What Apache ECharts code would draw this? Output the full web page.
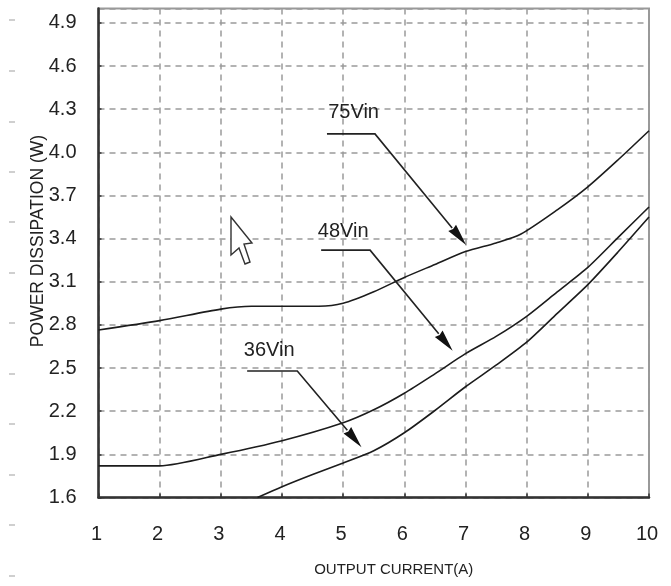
<!DOCTYPE html>
<html>
<head>
<meta charset="utf-8">
<style>html,body{margin:0;padding:0;background:#fff}#c{width:671px;height:586px}</style>
<script src="https://cdn.jsdelivr.net/npm/echarts@6/dist/echarts.min.js"></script>
</head>
<body>
<div id="c"></div>
<script>
const xTitle = 'OUTPUT CURRENT(A)';
const yTitle = 'POWER DISSIPATION (W)';
const curve75 = [[1,2.765],[2,2.83],[3,2.91],[3.5,2.93],[4,2.93],[4.6,2.93],[5,2.95],[5.5,3.03],[6,3.13],[6.5,3.22],[7,3.31],[7.5,3.37],[7.9,3.43],[8.5,3.6],[9,3.76],[9.5,3.95],[10,4.15]];
const curve48 = [[1,1.82],[2,1.82],[3,1.9],[4,1.995],[5,2.12],[5.5,2.21],[6,2.325],[6.5,2.46],[7,2.6],[7.5,2.72],[8,2.86],[8.5,3.03],[9,3.2],[9.5,3.41],[10,3.62]];
const curve36 = [[3.6,1.6],[4,1.675],[4.5,1.76],[5,1.84],[5.5,1.925],[6,2.05],[6.5,2.205],[7,2.37],[7.5,2.52],[8,2.68],[8.5,2.88],[9,3.08],[9.5,3.31],[10,3.55]];
const noteNames = ['75Vin','48Vin','36Vin'];
const noteText = [[5.17,4.28],[5.0,3.45],[3.79,2.62]];
const noteStart = [[4.735,4.128],[4.64,3.32],[3.43,2.48]];
const noteElbow = [[5.52,4.128],[5.44,3.32],[4.25,2.48]];
const noteTip = [[7.01,3.356],[6.79,2.62],[5.30,1.95]];

const curveColor = '#1c1c1c';
function curve(name, data){
  return {name, type:'line', data, symbol:'none', smooth:0.25, lineStyle:{color:curveColor,width:1.6}, silent:true, z:4};
}
function renderNote(params, api){
  const i = params.dataIndex;
  const s = api.coord(noteStart[i]), e = api.coord(noteElbow[i]), t = api.coord(noteTip[i]), l = api.coord(noteText[i]);
  const dx = t[0]-e[0], dy = t[1]-e[1], len = Math.hypot(dx,dy), ux = dx/len, uy = dy/len;
  const hl = 22, hw = 5, bx = t[0]-ux*hl, by = t[1]-uy*hl;
  return {type:'group', silent:true, children:[
    {type:'polyline', shape:{points:[s,e,[bx,by]]}, style:{stroke:'#222',lineWidth:1.6,fill:null}},
    {type:'polygon', shape:{points:[t,[bx-uy*hw,by+ux*hw],[bx+ux*1.5,by+uy*1.5],[bx+uy*hw,by-ux*hw]]}, style:{fill:'#111'}},
    {type:'text', style:{x:l[0],y:l[1],text:noteNames[i],fill:'#222',font:'20px "Liberation Sans", Arial, sans-serif',align:'center',verticalAlign:'middle'}}
  ]};
}
const sideMarks = [20,71,122,172,222,273,323,374,424,475,525,576].map(y=>({
  type:'line', shape:{x1:9,y1:y,x2:15,y2:y}, style:{stroke:'#cfcfcf',lineWidth:2}, silent:true
}));
const dash = {color:'#9a9a9a', width:1.5, type:[6,5]};
const chart = echarts.init(document.getElementById('c'), null, {renderer:'canvas'});
chart.setOption({
  animation:false,
  backgroundColor:'#fff',
  textStyle:{fontFamily:'"Liberation Sans", Arial, sans-serif'},
  grid:{left:98.5, right:22, top:8.5, bottom:88.5, show:true, borderColor:'#999', borderWidth:2, backgroundColor:'#fff'},
  xAxis:{type:'value', min:1, max:10, interval:1,
    name:xTitle, nameLocation:'middle', nameGap:65,
    nameTextStyle:{fontSize:15,color:'#222',padding:[0,0,0,40]},
    axisLine:{onZero:false,lineStyle:{color:'#333',width:2.5}},
    axisTick:{inside:true,length:4,lineStyle:{color:'#333',width:1.5}},
    axisLabel:{fontSize:20,color:'#222',margin:27,padding:[0,4,0,0]},
    splitLine:{show:true,lineStyle:dash}},
  yAxis:{type:'value', min:1.6, max:5, interval:0.3,
    axisLine:{onZero:false,lineStyle:{color:'#333',width:2.5}},
    axisTick:{inside:true,length:3,lineStyle:{color:'#333',width:1.5}},
    axisLabel:{fontSize:20,color:'#222',margin:22,showMaxLabel:false,
      formatter:v=>v.toFixed(1)},
    splitLine:{show:true,lineStyle:dash}},
  series:[
    curve('75Vin',curve75), curve('48Vin',curve48), curve('36Vin',curve36),
    {type:'custom', coordinateSystem:'cartesian2d', data:noteNames.map((n,i)=>noteTip[i]), renderItem:renderNote, clip:false, silent:true, z:5, encode:{x:0,y:1}}
  ],
  graphic:sideMarks.concat([{
    type:'polygon', silent:true, z:10,
    shape:{points:[[231,217],[252,243],[244,244],[250,262],[245,264],[239,248],[231,255]]},
    style:{fill:'#fff',stroke:'#333',lineWidth:1.4}
  },{
    type:'text', silent:true, z:10, x:38, y:241, rotation:Math.PI/2,
    style:{text:yTitle, fill:'#222', font:'17.5px "Liberation Sans", Arial, sans-serif', align:'center', verticalAlign:'middle'}
  }])
});
</script>
</body>
</html>
